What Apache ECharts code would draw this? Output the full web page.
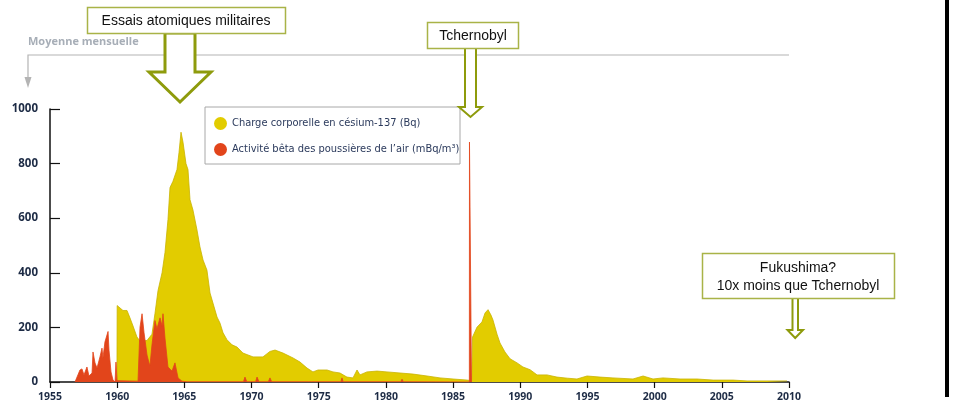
<!DOCTYPE html>
<html>
<head>
<meta charset="utf-8">
<script src="https://cdn.jsdelivr.net/npm/echarts@6/dist/echarts.min.js"></script>
<style>
html,body{margin:0;padding:0;background:#fff;}
#chart{width:953px;height:407px;}
</style>
</head>
<body>
<div id="chart"></div>
<script>
// ---- Data ----
const seriesNames = ['Charge corporelle en césium-137 (Bq)', 'Activité bêta des poussières de l\u2019air (mBq/m³)'];

const csYears = [1959.98,1960.0,1960.14,1960.43,1960.73,1960.95,1961.18,1961.47,1961.70,1962.22,1962.59,1962.81,1963.04,1963.34,1963.56,1963.78,1963.93,1964.15,1964.45,1964.60,1964.75,1964.90,1965.12,1965.27,1965.42,1965.64,1965.94,1966.16,1966.39,1966.68,1966.91,1967.13,1967.43,1967.65,1967.88,1968.17,1968.55,1968.92,1969.36,1970.11,1970.85,1971.37,1971.75,1972.34,1973.09,1973.61,1974.13,1974.57,1974.95,1975.62,1976.06,1976.58,1977.10,1977.55,1977.85,1978.07,1978.59,1979.34,1980.08,1981.05,1982.02,1983.06,1984.03,1985.0,1986.04,1986.38,1986.45,1986.78,1987.15,1987.38,1987.60,1987.82,1987.97,1988.27,1988.49,1988.86,1989.24,1989.76,1990.20,1990.73,1991.25,1991.99,1992.73,1993.5,1994.22,1994.97,1995.94,1996.90,1998.39,1999.14,1999.88,2000.62,2001.89,2003.15,2004.35,2005.83,2006.88,2008.36,2009.85];
const csValues = [0,280,285,262,262,235,205,165,150,152,175,250,335,400,475,595,712,735,778,840,915,878,800,778,668,630,557,495,447,410,326,289,238,216,180,155,136,128,106,92,92,112,117,106,88,73,51,37,44,44,37,33,18,15,44,26,37,40,37,33,29,22,15,11,7,5,165,201,220,253,265,245,227,175,143,110,85,70,55,45,26,26,18,14,11,22,18,15,11,22,11,15,11,11,7,7,4,4,4];

const betaYears = [1956.86,1957.23,1957.38,1957.53,1957.75,1957.90,1958.13,1958.20,1958.35,1958.50,1958.72,1958.87,1958.94,1959.09,1959.32,1959.39,1959.54,1959.69,1959.84,1959.91,1959.99,1961.55,1961.70,1961.85,1962.00,1962.22,1962.37,1962.44,1962.59,1962.81,1962.96,1963.19,1963.34,1963.41,1963.56,1963.78,1964.08,1964.30,1964.38,1964.53,1964.82,1965.2,1965.27,1965.35,1969.40,1969.51,1969.65,1970.30,1970.41,1970.55,1971.25,1971.37,1971.50,1974.25,1974.35,1974.45,1976.65,1976.73,1976.82,1977.40,1977.48,1977.56,1981.10,1981.20,1981.30,1986.21,1986.22,1986.36,1986.37];
const betaValues = [0,44,48,26,55,22,33,110,70,51,92,124,88,147,185,117,37,7,0,73,5,3,201,250,180,99,70,60,136,225,195,235,205,250,160,55,40,70,65,15,3,1,8,1,1,18,1,1,18,1,1,15,1,1,8,1,1,15,1,1,8,1,1,10,1,0,879,879,0];

const xTicks = {min: 1955, max: 2010, step: 5};
const yTicks = {min: 0, max: 1000, step: 200};

// ---- Chart ----
const chart = echarts.init(document.getElementById('chart'));
const pair = (xs, ys) => xs.map((x, i) => [x, ys[i]]);
const OLIVE = '#8e9b0c';
const OLIVE_BOX = '#a9b347';
const axisText = {color: '#1d2b45', fontWeight: 'bold', fontFamily: 'Open Sans', formatter: v => String(v)};

function arrow(points, lw) {
  return {type: 'polygon', z: 100, shape: {points: points},
          style: {fill: '#fff', stroke: OLIVE, lineWidth: lw, lineJoin: 'miter'}};
}
function box(x, y, w, h) {
  return {type: 'rect', z: 101, shape: {x: x, y: y, width: w, height: h},
          style: {fill: '#fff', stroke: OLIVE_BOX, lineWidth: 1.5}};
}
function label(x, y, txt) {
  return {type: 'text', z: 102, x: x, y: y,
          style: {text: txt, fill: '#111', font: '14px "Liberation Sans", Arial', align: 'center', verticalAlign: 'middle', lineHeight: 18}};
}

chart.setOption({
  animation: false,
  backgroundColor: '#fff',
  grid: {left: 50, right: 164, top: 109, bottom: 25, containLabel: false},
  xAxis: {
    type: 'value', min: xTicks.min, max: xTicks.max, interval: xTicks.step,
    axisLine: {lineStyle: {color: '#111', width: 1.5}},
    axisTick: {show: true, length: 6, lineStyle: {color: '#111', width: 1.2}},
    axisLabel: Object.assign({fontSize: 10.5, margin: 10}, axisText),
    splitLine: {show: false}
  },
  yAxis: {
    type: 'value', min: yTicks.min, max: yTicks.max, interval: yTicks.step,
    axisLine: {show: true, lineStyle: {color: '#111', width: 1.5}},
    axisTick: {show: true, inside: true, length: 10, lineStyle: {color: '#111', width: 1.2}},
    axisLabel: Object.assign({fontSize: 11.5, margin: 12}, axisText),
    splitLine: {show: false}
  },
  legend: {
    orient: 'vertical', left: 214, top: 117, padding: 0,
    itemWidth: 13, itemHeight: 13, itemGap: 13, icon: 'circle',
    textStyle: {fontFamily: '"DejaVu Sans Condensed", "Liberation Sans Narrow", sans-serif', fontSize: 11, color: '#2b3a5c', lineHeight: 13},
    data: seriesNames
  },
  series: [
    {
      name: seriesNames[0], type: 'line', data: pair(csYears, csValues),
      showSymbol: false, symbol: 'none', z: 2,
      itemStyle: {color: '#e2cc00'},
      lineStyle: {color: '#c9b400', width: 0.8},
      areaStyle: {color: '#e2cc00', opacity: 1}
    },
    {
      name: seriesNames[1], type: 'line', data: pair(betaYears, betaValues),
      showSymbol: false, symbol: 'none', z: 3,
      itemStyle: {color: '#e2451b'},
      lineStyle: {color: '#e2451b', width: 0.8},
      areaStyle: {color: '#e2451b', opacity: 1}
    }
  ],
  graphic: [
    // legend frame
    {type: 'rect', z: 3, shape: {x: 205, y: 107, width: 255, height: 57},
     style: {fill: '#fff', stroke: '#a8a8a8', lineWidth: 1}},
    // "Moyenne mensuelle"
    {type: 'text', z: 10, x: 28, y: 42,
     style: {text: 'Moyenne mensuelle', fill: '#a7aeb7', font: 'bold 11px "Open Sans"', verticalAlign: 'middle'}},
    {type: 'polyline', z: 10, shape: {points: [[789, 55], [28, 55], [28, 79]]},
     style: {stroke: '#b4b4b4', lineWidth: 1.2, fill: null}},
    {type: 'polygon', z: 10, shape: {points: [[24.5, 77], [31.5, 77], [28, 88]]},
     style: {fill: '#b4b4b4'}},
    // Essais atomiques militaires
    arrow([[165, 33], [195, 33], [195, 72], [211, 72], [180, 102], [149, 72], [165, 72]], 3),
    box(87.5, 7.5, 198, 26),
    label(186, 21, 'Essais atomiques militaires'),
    // Tchernobyl
    arrow([[465, 48], [476, 48], [476, 107], [482, 107], [470.5, 117], [459, 107], [465, 107]], 2),
    box(427.5, 22.5, 91, 26),
    label(473, 36, 'Tchernobyl'),
    // Fukushima
    arrow([[792.5, 298], [798, 298], [798, 330], [803, 330], [795.2, 338], [787.5, 330], [792.5, 330]], 2),
    box(702.5, 253.5, 192, 45),
    label(798, 277, 'Fukushima?\n10x moins que Tchernobyl'),
    // right black bar
    {type: 'rect', z: 10, shape: {x: 945, y: 0, width: 4, height: 397}, style: {fill: '#000'}}
  ]
});
</script>
</body>
</html>
